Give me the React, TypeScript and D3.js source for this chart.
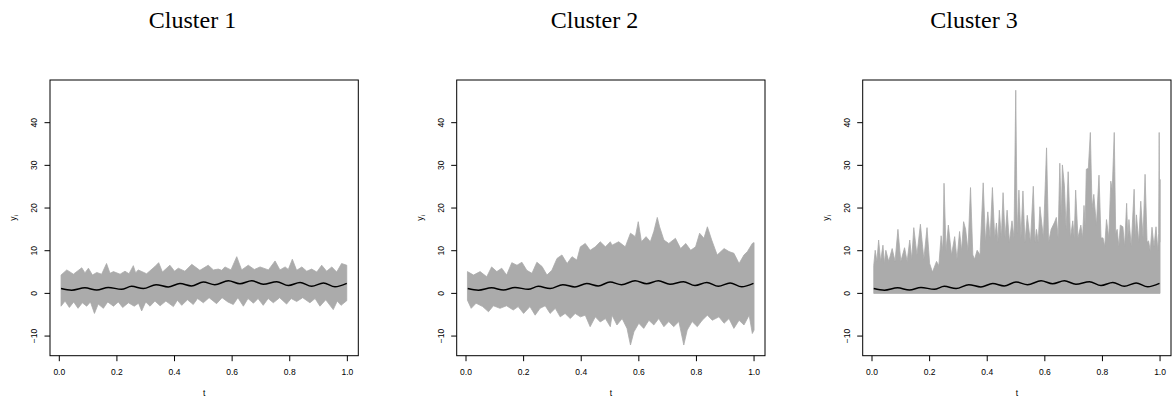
import React from 'react';
import * as d3 from 'd3';

type P = [number, number];

const TITLES = ['Cluster 1', 'Cluster 2', 'Cluster 3'];
const X_TICKS = [0, 0.2, 0.4, 0.6, 0.8, 1.0];
const Y_TICKS = [-10, 0, 10, 20, 30, 40];

// cluster mean curve (black)
const MEAN_T = [0.006, 0.043, 0.089, 0.13, 0.17, 0.216, 0.251, 0.292, 0.336, 0.378, 0.419, 0.459, 0.5, 0.54, 0.587, 0.627, 0.668, 0.708, 0.755, 0.795, 0.836, 0.876, 0.917, 0.957, 0.998];
const MEAN_Y = [1.15, 0.75, 1.3, 0.8, 1.4, 0.95, 1.65, 1.15, 2.05, 1.5, 2.3, 1.75, 2.65, 2.05, 2.95, 2.25, 2.95, 2.15, 2.75, 1.85, 2.55, 1.65, 2.45, 1.55, 2.35];

// gray envelopes of the individual curves
const C1_UPPER: P[] = [[0.006, 4.3], [0.026, 5.5], [0.049, 4.5], [0.078, 6.0], [0.089, 4.8], [0.101, 5.9], [0.115, 4.3], [0.13, 4.9], [0.147, 4.5], [0.164, 7.0], [0.176, 4.7], [0.188, 5.1], [0.211, 4.5], [0.228, 5.2], [0.242, 4.6], [0.257, 6.5], [0.265, 4.8], [0.274, 5.5], [0.303, 4.6], [0.332, 6.3], [0.345, 7.2], [0.358, 5.0], [0.384, 6.6], [0.4, 5.2], [0.413, 5.9], [0.436, 5.2], [0.46, 6.8], [0.488, 5.4], [0.517, 6.6], [0.535, 5.5], [0.552, 5.7], [0.564, 5.4], [0.575, 6.2], [0.596, 5.5], [0.616, 8.6], [0.633, 5.5], [0.656, 6.6], [0.677, 5.6], [0.697, 6.2], [0.726, 5.5], [0.749, 7.6], [0.766, 5.5], [0.784, 6.2], [0.795, 5.6], [0.809, 8.0], [0.824, 5.4], [0.842, 6.2], [0.859, 5.2], [0.876, 5.7], [0.894, 5.0], [0.911, 6.6], [0.928, 5.2], [0.946, 6.2], [0.963, 5.0], [0.98, 7.0], [0.998, 6.6]];
const C1_LOWER: P[] = [[0.006, -3.0], [0.02, -1.8], [0.035, -3.3], [0.05, -2.0], [0.065, -3.5], [0.08, -2.2], [0.095, -3.0], [0.108, -2.0], [0.122, -4.7], [0.135, -2.5], [0.153, -3.5], [0.168, -2.0], [0.188, -3.0], [0.205, -2.0], [0.22, -3.3], [0.24, -2.2], [0.26, -3.0], [0.275, -2.3], [0.286, -4.1], [0.3, -2.0], [0.315, -3.0], [0.332, -1.8], [0.35, -2.9], [0.37, -1.8], [0.396, -3.1], [0.41, -1.6], [0.425, -2.8], [0.445, -1.5], [0.465, -2.6], [0.48, -1.2], [0.5, -2.2], [0.52, -1.0], [0.546, -2.4], [0.565, -1.0], [0.585, -2.0], [0.604, -2.6], [0.62, -1.0], [0.639, -3.0], [0.655, -1.2], [0.674, -2.3], [0.69, -1.2], [0.708, -2.8], [0.725, -1.2], [0.743, -2.2], [0.765, -1.0], [0.789, -2.5], [0.805, -1.2], [0.824, -1.9], [0.845, -1.0], [0.87, -2.2], [0.888, -1.2], [0.905, -3.0], [0.925, -1.5], [0.951, -3.8], [0.965, -1.8], [0.978, -2.8], [0.998, -1.7]];

const C2_UPPER: P[] = [[0.005, 5.1], [0.026, 4.3], [0.049, 5.1], [0.072, 3.9], [0.089, 6.2], [0.107, 5.1], [0.124, 5.9], [0.141, 4.3], [0.159, 7.2], [0.177, 6.6], [0.194, 7.3], [0.211, 5.4], [0.229, 4.7], [0.246, 7.3], [0.264, 6.3], [0.281, 4.3], [0.298, 5.4], [0.316, 8.2], [0.333, 9.0], [0.351, 7.0], [0.368, 8.6], [0.385, 7.8], [0.397, 10.9], [0.414, 11.7], [0.431, 10.1], [0.449, 10.9], [0.466, 12.1], [0.484, 10.9], [0.501, 12.1], [0.507, 11.3], [0.53, 12.1], [0.553, 10.9], [0.571, 14.1], [0.588, 13.3], [0.598, 16.8], [0.609, 12.1], [0.625, 13.3], [0.64, 12.1], [0.652, 14.5], [0.664, 17.8], [0.672, 15.6], [0.687, 12.5], [0.704, 11.7], [0.727, 12.9], [0.745, 10.5], [0.763, 11.7], [0.78, 10.1], [0.797, 10.9], [0.811, 14.1], [0.826, 12.9], [0.838, 15.6], [0.853, 12.5], [0.872, 9.0], [0.896, 10.5], [0.913, 9.8], [0.93, 9.4], [0.948, 7.0], [0.965, 9.0], [0.977, 9.8], [0.994, 11.7], [1.0, 11.9]];
const C2_LOWER: P[] = [[0.005, -1.6], [0.018, -3.5], [0.035, -2.3], [0.058, -3.1], [0.078, -4.3], [0.095, -2.9], [0.118, -3.5], [0.141, -2.9], [0.164, -3.9], [0.181, -3.1], [0.2, -4.7], [0.222, -3.1], [0.24, -5.1], [0.257, -3.5], [0.275, -2.9], [0.292, -4.7], [0.31, -3.5], [0.327, -5.5], [0.344, -4.7], [0.362, -5.9], [0.379, -4.7], [0.397, -5.5], [0.414, -5.1], [0.431, -7.8], [0.449, -5.5], [0.466, -6.7], [0.484, -5.9], [0.501, -7.8], [0.507, -5.1], [0.524, -7.4], [0.542, -5.9], [0.559, -8.2], [0.571, -12.1], [0.583, -9.0], [0.6, -7.0], [0.617, -8.2], [0.635, -6.3], [0.652, -7.4], [0.669, -5.9], [0.687, -7.8], [0.704, -6.6], [0.721, -7.8], [0.739, -6.6], [0.756, -12.1], [0.768, -8.6], [0.785, -6.6], [0.803, -7.8], [0.82, -6.3], [0.838, -5.1], [0.855, -6.3], [0.878, -5.5], [0.896, -7.0], [0.913, -5.9], [0.93, -8.2], [0.948, -6.3], [0.965, -7.4], [0.983, -5.1], [0.994, -9.4], [1.0, -8.6]];

const C3_UPPER: P[] = [[0.006, 6.5], [0.011, 10.1], [0.017, 7.5], [0.023, 12.5], [0.03, 7.5], [0.038, 11.3], [0.043, 7], [0.048, 10.1], [0.058, 7.5], [0.07, 10.5], [0.08, 7.5], [0.09, 15.0], [0.1, 7.5], [0.113, 10.7], [0.122, 7.5], [0.131, 12.5], [0.138, 8], [0.145, 15.4], [0.156, 9], [0.168, 16.2], [0.18, 8], [0.191, 15.4], [0.2, 7], [0.21, 5], [0.224, 7.5], [0.232, 6.5], [0.24, 13.5], [0.246, 10], [0.25, 25.8], [0.257, 10], [0.265, 16.0], [0.276, 9], [0.287, 13.3], [0.295, 8], [0.304, 14.5], [0.311, 10], [0.318, 16.8], [0.325, 15], [0.333, 10], [0.342, 24.8], [0.35, 9], [0.356, 8], [0.365, 10.1], [0.375, 9], [0.386, 25.9], [0.394, 12], [0.402, 19.1], [0.41, 13], [0.418, 24.8], [0.426, 13], [0.432, 16.5], [0.437, 12], [0.442, 19.5], [0.449, 13], [0.455, 23.6], [0.462, 13], [0.469, 19.5], [0.477, 12], [0.486, 17], [0.493, 13], [0.499, 47.6], [0.504, 14], [0.51, 24.2], [0.517, 13], [0.524, 24], [0.531, 12], [0.539, 18.3], [0.55, 12], [0.56, 25.1], [0.566, 12], [0.571, 15], [0.577, 12], [0.583, 20.3], [0.595, 13], [0.606, 34.1], [0.613, 12], [0.622, 15], [0.634, 16.7], [0.64, 17.8], [0.646, 13], [0.652, 30.5], [0.657, 18], [0.661, 30.1], [0.668, 25.2], [0.674, 15], [0.681, 28.5], [0.689, 13], [0.697, 17], [0.702, 13], [0.707, 24.2], [0.715, 13], [0.725, 16], [0.731, 13], [0.736, 20.6], [0.74, 16], [0.744, 29.1], [0.751, 29.3], [0.758, 37.7], [0.764, 20], [0.77, 23.2], [0.779, 16], [0.788, 27.7], [0.795, 13], [0.802, 13], [0.808, 11], [0.814, 17.3], [0.822, 13], [0.829, 26.3], [0.834, 24.3], [0.841, 37.7], [0.846, 14], [0.851, 15], [0.857, 11], [0.862, 16], [0.871, 15.6], [0.877, 11], [0.884, 21.1], [0.888, 13], [0.892, 17.3], [0.9, 11], [0.91, 24.4], [0.914, 13], [0.918, 18.4], [0.926, 12], [0.933, 21.6], [0.941, 13], [0.948, 27.9], [0.955, 12], [0.96, 12.3], [0.966, 10], [0.972, 15.5], [0.979, 11], [0.986, 15.6], [0.992, 10], [0.995, 14], [0.997, 37.7], [0.999, 12], [1.0, 26.7]];
const C3_LOWER: P[] = [[0.006, 0], [1.0, 0]];

const UPPERS = [C1_UPPER, C2_UPPER, C3_UPPER];
const LOWERS = [C1_LOWER, C2_LOWER, C3_LOWER];

// layout
const PANEL_LEFT = [50, 456.7, 862.7];
const TITLE_X = [192.5, 594.5, 974];
const BOX_W = 308.3;
const BOX_TOP = 80;
const BOX_BOTTOM = 355.7;
const GRAY = '#ababab';
const SANS = 'Liberation Sans, Arial, Helvetica, sans-serif';

function Panel({ idx }: { idx: number }) {
  const left = PANEL_LEFT[idx];
  const x = d3.scaleLinear().domain([-0.0323, 1.038]).range([left, left + BOX_W]);
  const y = d3.scaleLinear().domain([-14.6, 50]).range([BOX_BOTTOM, BOX_TOP]);
  const line = d3.line<P>().x(d => x(d[0])).y(d => y(d[1]));
  const poly = UPPERS[idx].concat(LOWERS[idx].slice().reverse());
  const bandPath = line(poly) + 'Z';
  const meanPts: P[] = MEAN_T.map((t, i) => [t, MEAN_Y[i]]);
  const meanPath = d3.line<P>().x(d => x(d[0])).y(d => y(d[1])).curve(d3.curveMonotoneX)(meanPts) || '';
  const clipId = `clip${idx}`;
  const cx = left + BOX_W / 2;
  const cy = (BOX_TOP + BOX_BOTTOM) / 2;
  return (
    <g>
      <defs>
        <clipPath id={clipId}>
          <rect x={left} y={BOX_TOP} width={BOX_W} height={BOX_BOTTOM - BOX_TOP} />
        </clipPath>
      </defs>
      <text x={TITLE_X[idx]} y={28} textAnchor="middle" fontFamily="Liberation Serif, Times New Roman, serif" fontSize={24} fill="#000">{TITLES[idx]}</text>
      <g clipPath={`url(#${clipId})`}>
        <path d={bandPath} fill={GRAY} stroke={GRAY} strokeWidth={0.8} strokeLinejoin="miter" />
        <path d={meanPath} fill="none" stroke="#000" strokeWidth={1.5} />
      </g>
      <rect x={left} y={BOX_TOP} width={BOX_W} height={BOX_BOTTOM - BOX_TOP} fill="none" stroke="#000" strokeWidth={1} />
      {X_TICKS.map(t => (
        <g key={'x' + t}>
          <line x1={x(t)} x2={x(t)} y1={BOX_BOTTOM} y2={BOX_BOTTOM + 5.5} stroke="#000" strokeWidth={1} />
          <text x={x(t)} y={375} textAnchor="middle" fontFamily={SANS} fontSize={8.5} fill="#000">{t.toFixed(1)}</text>
        </g>
      ))}
      {Y_TICKS.map(v => (
        <g key={'y' + v}>
          <line x1={left - 5.5} x2={left} y1={y(v)} y2={y(v)} stroke="#000" strokeWidth={1} />
          <text transform={`translate(${left - 13},${y(v)}) rotate(-90)`} textAnchor="middle" fontFamily={SANS} fontSize={8.5} fill="#000">{v === -10 ? '\u221210' : String(v)}</text>
        </g>
      ))}
      <text x={cx} y={396} textAnchor="middle" fontFamily={SANS} fontSize={8.5} fill="#000">t</text>
      <text transform={`translate(${left - 34},${cy}) rotate(-90)`} textAnchor="middle" fontFamily={SANS} fontSize={8.5} fill="#000">
        y<tspan fontSize={6} dy={2}>i</tspan>
      </text>
    </g>
  );
}

export default function App() {
  return (
    <svg width={1174} height={401} style={{ position: 'absolute', left: 0, top: 0, background: '#fff' }}>
      <rect x={0} y={0} width={1174} height={401} fill="#fff" />
      {[0, 1, 2].map(i => <Panel key={i} idx={i} />)}
    </svg>
  );
}
